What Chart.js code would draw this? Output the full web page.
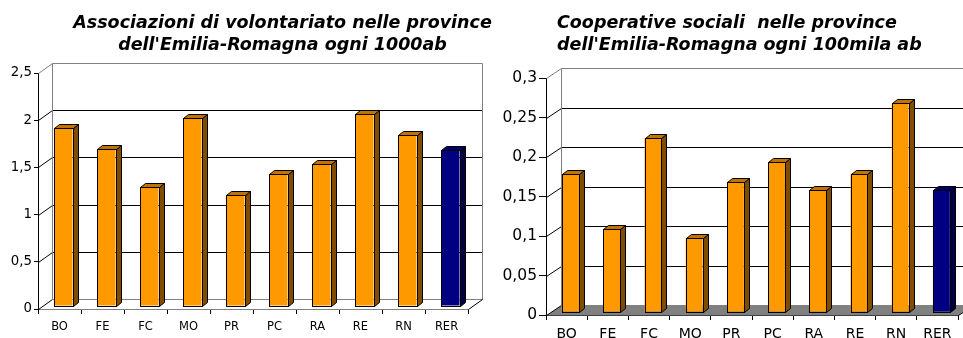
<!DOCTYPE html>
<html>
<head>
<meta charset="utf-8">
<script src="https://cdn.jsdelivr.net/npm/chart.js@4.4.1/dist/chart.umd.min.js"></script>
<style>
  html, body { margin: 0; padding: 0; background: #fff; overflow: hidden; }
  #page { position: relative; width: 963px; height: 338px; }
  canvas { position: absolute; top: 0; }
  #c1 { left: 0; }
  #c2 { left: 481px; }
  .title {
    position: absolute; font-family: "DejaVu Sans", Verdana, sans-serif;
    font-weight: bold; font-style: italic; font-size: 17.5px; line-height: 22px;
    color: #000; white-space: pre; top: 11px;
  }
  #t1 { left: 2px; width: 561px; text-align: center; }
  #t2 { left: 557px; text-align: left; }
</style>
</head>
<body>
<div id="page">
  <canvas id="c1" width="484" height="338"></canvas>
  <canvas id="c2" width="482" height="338"></canvas>
  <div class="title" id="t1">Associazioni di volontariato nelle province
dell'Emilia-Romagna ogni 1000ab</div>
  <div class="title" id="t2">Cooperative sociali  nelle province
dell'Emilia-Romagna ogni 100mila ab</div>
</div>
<script>
// Dati
const province = ['BO', 'FE', 'FC', 'MO', 'PR', 'PC', 'RA', 'RE', 'RN', 'RER'];
const volontariato = [1.89, 1.66, 1.26, 1.99, 1.18, 1.40, 1.50, 2.03, 1.81, 1.65];
const cooperative = [0.175, 0.105, 0.22, 0.094, 0.165, 0.19, 0.154, 0.175, 0.265, 0.154];
const ticksVol = [0, 0.5, 1, 1.5, 2, 2.5];
const ticksCoop = [0, 0.05, 0.1, 0.15, 0.2, 0.25, 0.3];

// colori: arancio per le province, blu per la regione
const coloreFronte = province.map(p => p === 'RER' ? '#000080' : '#FF9900');
const coloreLato = province.map(p => p === 'RER' ? '#000040' : '#7F4C00');
const coloreCima = province.map(p => p === 'RER' ? '#000066' : '#C07300');

const fmt = v => String(Number(v.toFixed(2))).replace('.', ',');

// Pareti 3D (stile Excel) + facce laterali delle barre
const fake3d = {
    id: 'fake3d',
    beforeDatasetsDraw(chart, args, o) {
        const { ctx, chartArea: a, scales: { y } } = chart;
        const line = (x1, y1, x2, y2, c) => {
            ctx.beginPath();
            ctx.moveTo(x1, y1);
            ctx.lineTo(x2, y2);
            ctx.strokeStyle = c;
            ctx.stroke();
        };
        ctx.save();
        ctx.lineWidth = 1;
        const L = Math.round(a.left) + 0.5, R = Math.round(a.right) + 0.5, B = Math.round(a.bottom) + 0.5;
        // pavimento
        ctx.beginPath();
        ctx.moveTo(L, B);
        ctx.lineTo(L + o.dx, B + o.dy);
        ctx.lineTo(R + o.dx, B + o.dy);
        ctx.lineTo(R, B);
        ctx.closePath();
        ctx.fillStyle = o.floor;
        ctx.fill();
        // griglia sulla parete di fondo e diagonali sulla parete laterale
        const vals = y.ticks.map(t => t.value);
        const max = Math.max(...vals);
        vals.forEach(v => {
            const py = Math.round(y.getPixelForValue(v)) + 0.5;
            const isTop = v === max, isZero = v === 0;
            line(L + o.dx, py + o.dy, R + o.dx, py + o.dy, (isTop || isZero) ? '#808080' : '#000');
            line(L, py, L + o.dx, py + o.dy, isTop ? '#808080' : '#000');
        });
        const yt = Math.round(y.getPixelForValue(max)) + 0.5;
        line(L + o.dx, yt + o.dy, L + o.dx, B + o.dy, '#808080');
        line(R + o.dx, yt + o.dy, R + o.dx, B + o.dy, '#808080');
        line(R, B, R + o.dx, B + o.dy, '#000');
        ctx.restore();

        ctx.save();
        ctx.translate(o.bx, o.by);
    },
    afterDatasetsDraw(chart, args, o) {
        const ctx = chart.ctx;
        const meta = chart.getDatasetMeta(0);
        ctx.lineWidth = 1;
        ctx.strokeStyle = '#000';
        meta.data.forEach((bar, i) => {
            const { x, y, base, width } = bar.getProps(['x', 'y', 'base', 'width'], true);
            const l = Math.round(x - width / 2) + 0.5, r = Math.round(x + width / 2) + 0.5;
            const yy = Math.round(y) + 0.5, bb = Math.round(base) + 0.5;
            // lato destro
            ctx.beginPath();
            ctx.moveTo(r, yy);
            ctx.lineTo(r + o.d, yy - o.dd);
            ctx.lineTo(r + o.d, bb - o.dd);
            ctx.lineTo(r, bb);
            ctx.closePath();
            ctx.fillStyle = coloreLato[i];
            ctx.fill();
            ctx.stroke();
            // faccia superiore
            ctx.beginPath();
            ctx.moveTo(l, yy);
            ctx.lineTo(l + o.d, yy - o.dd);
            ctx.lineTo(r + o.d, yy - o.dd);
            ctx.lineTo(r, yy);
            ctx.closePath();
            ctx.fillStyle = coloreCima[i];
            ctx.fill();
            ctx.stroke();
            // faccia frontale (bordo)
            ctx.strokeRect(l, yy, r - l, bb - yy);
        });
        ctx.restore();
    }
};

function makeChart(id, values, tickVals, cfg) {
    const step = tickVals[1] - tickVals[0];
    return new Chart(document.getElementById(id), {
        type: 'bar',
        data: {
            labels: province,
            datasets: [{
                data: values,
                backgroundColor: coloreFronte,
                borderWidth: 0,
                barPercentage: cfg.barPct,
                categoryPercentage: 1,
                clip: false
            }]
        },
        options: {
            responsive: false,
            animation: false,
            events: [],
            layout: { padding: { left: 0, top: cfg.top, right: cfg.right, bottom: 0 } },
            plugins: {
                legend: { display: false },
                title: { display: false },
                tooltip: { enabled: false },
                fake3d: cfg.d3
            },
            scales: {
                x: {
                    grid: { drawOnChartArea: false, drawTicks: true, tickLength: 5, tickColor: '#000' },
                    border: { display: true, color: '#000' },
                    ticks: {
                        color: '#000', padding: cfg.xPad, maxRotation: 0, autoSkip: false,
                        font: { family: 'DejaVu Sans', size: cfg.xFont }
                    },
                    afterFit: s => { s.height = cfg.xH; }
                },
                y: {
                    min: tickVals[0],
                    max: tickVals[tickVals.length - 1],
                    grid: { drawOnChartArea: false, drawTicks: true, tickLength: cfg.yTick, tickColor: '#000' },
                    border: { display: true, color: '#000' },
                    ticks: {
                        stepSize: step, color: '#000', padding: 2,
                        font: { family: 'DejaVu Sans', size: cfg.yFont },
                        callback: v => fmt(v)
                    },
                    afterFit: s => { s.width = cfg.yW; }
                }
            }
        },
        plugins: [fake3d]
    });
}

makeChart('c1', volontariato, ticksVol, {
    top: 73, right: 16, xH: 29, xPad: 6, yW: 38, yTick: 4, barPct: 0.42, xFont: 11.5, yFont: 13.3,
    d3: { dx: 14, dy: -10, floor: '#fff', bx: 4, by: -3, d: 5, dd: 4 }
});
makeChart('c2', cooperative, ticksCoop, {
    top: 78, right: 5, xH: 23, xPad: 6, yW: 65, yTick: 7, barPct: 0.41, xFont: 14, yFont: 15.5,
    d3: { dx: 15, dy: -10, floor: '#808080', bx: 4, by: -3, d: 5, dd: 4 }
});
</script>
</body>
</html>
